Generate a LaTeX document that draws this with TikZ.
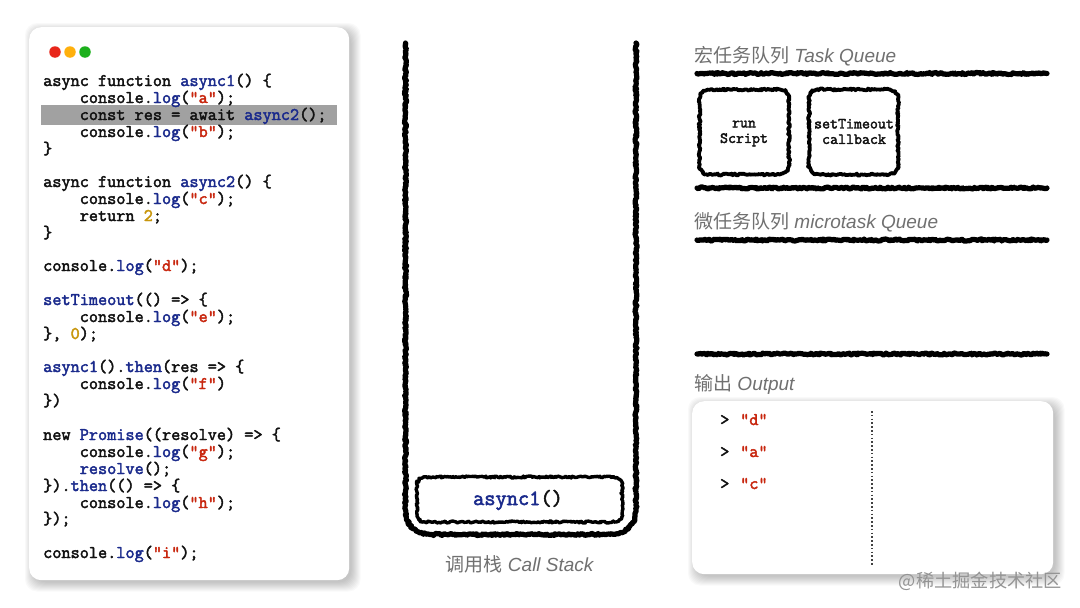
\documentclass[tikz,border=0pt]{standalone}
\usepackage{fontspec}
\setmainfont{Liberation Sans}
\newfontfamily\cjk{Noto Sans CJK SC}
\newfontfamily\codefont[FakeBold=2.4]{Latin Modern Mono}
\usetikzlibrary{decorations.pathmorphing}
\definecolor{kwblue}{HTML}{1A2A8C}
\definecolor{strred}{HTML}{C8260E}
\definecolor{numgold}{HTML}{C8960C}
\definecolor{ink}{HTML}{111111}
\definecolor{labelgrey}{HTML}{707070}
\definecolor{lightred}{HTML}{E8261A}
\definecolor{lightorange}{HTML}{FFB00C}
\definecolor{lightgreen}{HTML}{1CB01C}
\newcommand{\kw}[1]{\textcolor{kwblue}{#1}}
\newcommand{\strv}[1]{\textcolor{strred}{#1}}
\newcommand{\numv}[1]{\textcolor{numgold}{#1}}
\newcommand{\softshadow}[4]{%
  \foreach \g in {0,1,...,9}{%
    \fill[black,opacity=0.024,rounded corners=12pt]
      ({#1+4-\g+1},{#2+4-\g+1}) rectangle ({#3+3.5+\g-1},{#4+3.5+\g-1});}}
% rough outline with rounded corners: #1 options, #2 x1, #3 y1, #4 x2, #5 y2, #6 radius
\newcommand{\roughrect}[6][]{%
  \draw[rough,#1] ({#2+#6},#3) -- ({#4-#6},#3)
    .. controls ({#4-0.45*#6},#3) and (#4,{#3+0.45*#6}) .. (#4,{#3+#6})
    -- (#4,{#5-#6})
    .. controls (#4,{#5-0.45*#6}) and ({#4-0.45*#6},#5) .. ({#4-#6},#5)
    -- ({#2+#6},#5)
    .. controls ({#2+0.45*#6},#5) and (#2,{#5-0.45*#6}) .. (#2,{#5-#6})
    -- (#2,{#3+#6})
    .. controls (#2,{#3+0.45*#6}) and ({#2+0.45*#6},#3) .. ({#2+#6},#3) -- cycle;}
\tikzset{
  x=1pt,y=-1pt,
  codeline/.style={anchor=base west,inner sep=0pt,text=ink,font=\codefont\fontsize{17.75}{19}\selectfont},
  cardbox/.style={fill=white,rounded corners=12pt,inner sep=0pt,anchor=north west},
  rough/.style={draw=black,line width=3.8pt,line join=round,line cap=round,decorate,decoration={random steps,segment length=1.4pt,amplitude=1pt}},
  qlabel/.style={anchor=base west,inner sep=0pt,text=labelgrey,font=\fontsize{19}{22}\selectfont},
  light/.style={circle,inner sep=0pt,minimum size=11.5pt},
  queuetext/.style={align=center,text=ink,font=\codefont\fontsize{15.5}{15.5}\selectfont},
}
\begin{document}
\begin{tikzpicture}
\pgfmathsetseed{7}
\useasboundingbox (0,0) rectangle (1080,608);
\fill[white] (0,0) rectangle (1080,608);
% code card
\softshadow{29}{27}{349}{580}
\node[cardbox,minimum width=320pt,minimum height=553pt] (codecard) at (29,27) {};
\node[light,fill=lightred] (lred) at (55,52) {};
\node[light,fill=lightorange] (lyellow) at (70,52) {};
\node[light,fill=lightgreen] (lgreen) at (85,52) {};
\node[fill=black!37,minimum width=296pt,minimum height=20pt,inner sep=0pt,anchor=north west] (hl) at (41,105) {};
\node[codeline] (c1) at (43,86) {async function \kw{async1}() \{};
\node[codeline] (c2) at (43,103) {\phantom{0000}console.\kw{log}(\strv{"a"});};
\node[codeline] (c3) at (43,120) {\phantom{0000}const res = await \kw{async2}();};
\node[codeline] (c4) at (43,137) {\phantom{0000}console.\kw{log}(\strv{"b"});};
\node[codeline] (c5) at (43,154) {\}};
\node[codeline] (c6) at (43,187) {async function \kw{async2}() \{};
\node[codeline] (c7) at (43,204) {\phantom{0000}console.\kw{log}(\strv{"c"});};
\node[codeline] (c8) at (43,221) {\phantom{0000}return \numv{2};};
\node[codeline] (c9) at (43,238) {\}};
\node[codeline] (c10) at (43,271) {console.\kw{log}(\strv{"d"});};
\node[codeline] (c11) at (43,305) {\kw{setTimeout}(() => \{};
\node[codeline] (c12) at (43,322) {\phantom{0000}console.\kw{log}(\strv{"e"});};
\node[codeline] (c13) at (43,339) {\}, \numv{0});};
\node[codeline] (c14) at (43,372) {\kw{async1}().\kw{then}(res => \{};
\node[codeline] (c15) at (43,389) {\phantom{0000}console.\kw{log}(\strv{"f"})};
\node[codeline] (c16) at (43,406) {\})};
\node[codeline] (c17) at (43,440) {new \kw{Promise}((resolve) => \{};
\node[codeline] (c18) at (43,457) {\phantom{0000}console.\kw{log}(\strv{"g"});};
\node[codeline] (c19) at (43,474) {\phantom{0000}\kw{resolve}();};
\node[codeline] (c20) at (43,491) {\}).\kw{then}(() => \{};
\node[codeline] (c21) at (43,508) {\phantom{0000}console.\kw{log}(\strv{"h"});};
\node[codeline] (c22) at (43,524) {\});};
\node[codeline] (c23) at (43,558) {console.\kw{log}(\strv{"i"});};
% call stack
\draw[rough,line width=5.2pt] (405.5,43) -- (405.5,510)
  .. controls (405.5,525) and (416,534.5) .. (431,534.5) -- (610,534.5)
  .. controls (625,534.5) and (636,525) .. (636,510) -- (636,43);
\roughrect[line width=3.4pt]{417}{477}{622}{522}{8}
\node[inner sep=0pt,font=\codefont\fontsize{21.8}{22}\selectfont,text=ink] (framet) at (518,500) {\kw{async1}()};
\node[anchor=base,inner sep=0pt,text=labelgrey,font=\fontsize{19}{22}\selectfont] (stacklabel) at (520,571) {{\cjk 调用栈} \textit{Call Stack}};
% task queue
\node[qlabel] (tasklabel) at (694,62) {{\cjk 宏任务队列} \textit{Task Queue}};
\draw[rough,line width=5.2pt] (697,73.5) -- (1047,73.5);
\roughrect{699.5}{89.5}{789}{174.5}{9}
\node[queuetext] (runt) at (744,133.5) {run\\Script};
\roughrect{809}{89.5}{898}{174.5}{9}
\node[queuetext] (stt) at (854,131.5) {setTimeout\\callback};
\draw[rough,line width=5.2pt] (697,188) -- (1047,188);
% microtask queue
\node[qlabel] (microlabel) at (694,228) {{\cjk 微任务队列} \textit{microtask Queue}};
\draw[rough,line width=5.2pt] (697,240) -- (1047,240);
\draw[rough,line width=5.2pt] (697,354) -- (1047,354);
% output
\node[qlabel] (outlabel) at (694,390) {{\cjk 输出} \textit{Output}};
\softshadow{692}{401}{1053}{574}
\node[cardbox,minimum width=361pt,minimum height=173pt] (outcard) at (692,401) {};
\draw[line width=1.6pt,dash pattern=on 1.6pt off 2.2pt,color=ink!80] (872,411) -- (872,565);
\foreach \n/\yy/\s in {d/425/"d",a/457/"a",c/489/"c"}{
  \node[codeline] (gt\n) at (720,\yy) {>};
  \node[codeline] (out\n) at (740,\yy) {\strv{\s}};
}
\node[anchor=base east,inner sep=0pt,text=black!42,font=\cjk\fontsize{18.2}{20}\selectfont] (wm) at (1062,587) {@稀土掘金技术社区};
\end{tikzpicture}
\end{document}
